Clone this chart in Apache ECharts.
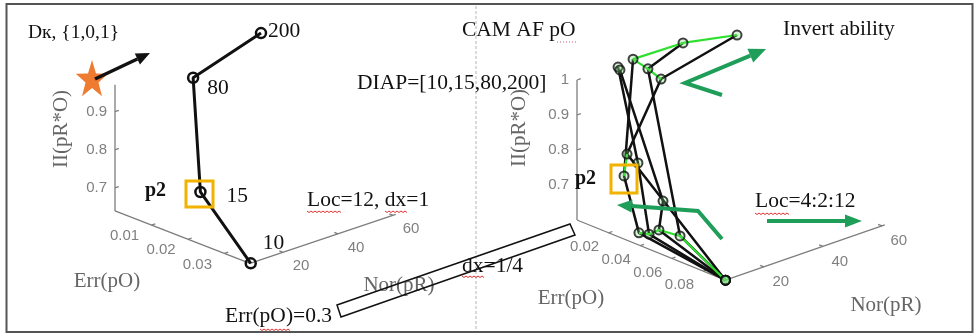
<!DOCTYPE html>
<html><head><meta charset="utf-8">
<script src="https://cdn.jsdelivr.net/npm/echarts@6/dist/echarts.min.js"></script>
<style>html,body{margin:0;padding:0;background:#fff}#c{width:975px;height:336px}</style>
</head><body><div id="c"></div>
<script>
// ---------------- DATA ----------------
const DIAP = [10, 15, 80, 200];

// Left panel (Loc=12, dx=1): one trajectory over DIAP
const leftNor = [8, 10, 12, 40];
const leftErr = [0.0372, 0.0219, 0.0184, 0.0159];
const leftII  = [0.641, 0.766, 1.047, 1.087];

// Right panel (Loc=4:2:12, dx=1/4): one trajectory per Loc over DIAP
const LOCS = [4, 6, 8, 10, 12];
const rightNor = [
  [7, 10, 14, 20],
  [7, 10, 14, 20],
  [7, 11, 12, 20],
  [7, 12, 16, 35],
  [7, 14, 16, 50]
];
const rightErr = [
  [0.094, 0.0336, 0.0167, 0.0112],
  [0.094, 0.0400, 0.0255, 0.0017],
  [0.094, 0.0444, 0.0451, 0.0029],
  [0.094, 0.0559, 0.0281, 0.0148],
  [0.094, 0.0186, 0.0364, 0.0210]
];
const rightII = [
  [0.600, 0.616, 0.736, 1.042],
  [0.600, 0.624, 0.789, 1.002],
  [0.600, 0.641, 0.722, 0.996],
  [0.600, 0.642, 1.057, 1.051],
  [0.600, 0.802, 1.043, 1.041]
];
// green cross links, as [locIndex, diapIndex] references
const greenLinks = [
  [[0,0],[3,1],[2,1],[1,1],[0,1]],
  [[0,2],[4,1]],
  [[4,2],[3,2],[0,3],[3,3],[4,3]]
];

// tick values
const leftNorTicks = [20, 40, 60];
const leftErrTicks = [0.01, 0.02, 0.03];
const leftIITicks  = [0.7, 0.8, 0.9];
const rightNorTicks = [20, 40, 60];
const rightErrTicks = [0.02, 0.04, 0.06, 0.08];
const rightIITicks  = [0.7, 0.8, 0.9, 1];

// ---------------- VIEW (3-D boxes projected on the page) ----------------
const leftBox  = {nor:[8,61], err:[0,0.037], ii:[0.64,0.97], origin:[115,210.9], E:[135,52.5],  N:[145.75,-49],   Z:[0,-126.1]};
const rightBox = {nor:[7,61], err:[0,0.094], ii:[0.6,1.0],   origin:[577,220],   E:[148.5,60.2], N:[159.3,-55.35], Z:[0,-140]};
const leftLabelOffsets = [[12,-20],[26,4.4],[14,10.4],[7,-1.3]];

function proj(box, nor, err, ii) {
  const fe = (err - box.err[0]) / (box.err[1] - box.err[0]);
  const fn = (nor - box.nor[0]) / (box.nor[1] - box.nor[0]);
  const fz = (ii - box.ii[0]) / (box.ii[1] - box.ii[0]);
  return [box.origin[0] + fe*box.E[0] + fn*box.N[0] + fz*box.Z[0],
          box.origin[1] + fe*box.E[1] + fn*box.N[1] + fz*box.Z[1]];
}
const unit = v => { const L = Math.hypot(v[0], v[1]); return [v[0]/L, v[1]/L]; };

function axisSegs(box, norTicks, errTicks, iiTicks) {
  const segs = [];
  const [n0,n1] = box.nor, [e0,e1] = box.err, [z0,z1] = box.ii;
  const a = proj(box,n0,e0,z0), b = proj(box,n0,e0,z1), c = proj(box,n0,e1,z0), d = proj(box,n1,e1,z0);
  segs.push([...a,...b], [...a,...c], [...c,...d]);
  const uN = unit(box.N), uE = unit(box.E), T = 4;
  iiTicks.forEach(t => { const p = proj(box,n0,e0,t); segs.push([p[0],p[1],p[0]+uN[0]*T,p[1]+uN[1]*T]); });
  errTicks.forEach(t => { const p = proj(box,n0,t,z0); segs.push([p[0],p[1],p[0]+uN[0]*T,p[1]+uN[1]*T]); });
  norTicks.forEach(t => { const p = proj(box,t,e1,z0); segs.push([p[0],p[1],p[0]-uE[0]*T,p[1]-uE[1]*T]); });
  return segs;
}
function tickLabels(box, norTicks, errTicks, iiTicks, errOff, norOff) {
  const out = [];
  const [n0,n1] = box.nor, [e0,e1] = box.err, [z0] = box.ii;
  iiTicks.forEach(t => { const p = proj(box,n0,e0,t);
    out.push({value:[p[0]-8, p[1]], label:{formatter:String(t), align:'right'}}); });
  errTicks.forEach(t => { const p = proj(box,n0,t,z0);
    out.push({value:[p[0]+errOff[0], p[1]+errOff[1]], label:{formatter:String(t), align:'center'}}); });
  norTicks.forEach(t => { const p = proj(box,t,e1,z0);
    out.push({value:[p[0]+norOff[0], p[1]+norOff[1]], label:{formatter:String(t), align:'center'}}); });
  return out;
}

const SERIF = '"Liberation Serif","Times New Roman",serif';
const SANS = '"Liberation Sans",Arial,sans-serif';
const LIME = '#2ee02e';
const GREEN = '#1f9e5a';
const BIG = 21.5;

const series = [];
series.push({
  type:'custom', silent:true, z:1, animation:false,
  encode:{x:[0,2], y:[1,3]},
  data: axisSegs(leftBox, leftNorTicks, leftErrTicks, leftIITicks)
        .concat(axisSegs(rightBox, rightNorTicks, rightErrTicks, rightIITicks)),
  renderItem: (params, api) => {
    const p1 = api.coord([api.value(0), api.value(1)]);
    const p2 = api.coord([api.value(2), api.value(3)]);
    return {type:'line', shape:{x1:p1[0],y1:p1[1],x2:p2[0],y2:p2[1]}, style:{stroke:'#7d7d7d', lineWidth:1.3}};
  }
});
series.push({
  type:'scatter', silent:true, z:2, symbolSize:1, itemStyle:{color:'rgba(0,0,0,0)'},
  label:{show:true, position:'inside', verticalAlign:'middle', color:'#5f5f5f', fontFamily:SANS, fontSize:15},
  data: tickLabels(leftBox, leftNorTicks, leftErrTicks, leftIITicks, [-27,11], [18,14])
        .concat(tickLabels(rightBox, rightNorTicks, rightErrTicks, rightIITicks, [-24,14], [17,15]))
});

// left trajectory
series.push({
  type:'line', z:4, animation:false,
  symbol:'circle', symbolSize:10, showSymbol:true,
  lineStyle:{color:'#111', width:3},
  itemStyle:{color:'rgba(255,255,255,0)', borderColor:'#111', borderWidth:2.5},
  label:{show:true, position:'inside', align:'left', verticalAlign:'middle', color:'#111', fontFamily:SERIF, fontSize:BIG},
  data: DIAP.map((d,i) => ({value: proj(leftBox, leftNor[i], leftErr[i], leftII[i]),
                            label:{formatter:String(d), offset:leftLabelOffsets[i]}}))
});

// right trajectories
const rightPt = (li, di) => proj(rightBox, rightNor[li][di], rightErr[li][di], rightII[li][di]);
LOCS.forEach((loc, li) => {
  series.push({
    type:'line', name:'Loc='+loc, z:3, animation:false, symbol:'none',
    lineStyle:{color:'#111', width:2.5},
    data: DIAP.map((d, di) => rightPt(li, di))
  });
});
greenLinks.forEach(link => {
  series.push({
    type:'line', z:4, animation:false, symbol:'none',
    lineStyle:{color:LIME, width:2.2},
    data: link.map(([li, di]) => rightPt(li, di))
  });
});
const allRight = [];
LOCS.forEach((loc, li) => DIAP.forEach((d, di) => allRight.push(rightPt(li, di))));
series.push({
  type:'scatter', z:5, animation:false, symbol:'circle', symbolSize:9,
  itemStyle:{color:'rgba(120,220,120,0.35)', borderColor:'#111', borderWidth:2},
  data: allRight
});

// ---------------- ANNOTATIONS ----------------
function text(x, y, t, size, o = {}) {
  return {type:'text', x, y, z:100, rotation:o.rot||0,
    style:{text:t, font:(o.bold?'bold ':'') + size + 'px ' + (o.font||SERIF), fill:o.fill||'#111',
           align:o.align||'left', verticalAlign:'middle', textAlign:o.align||'left', textVerticalAlign:'middle'}};
}
function arrow(points, color, width, head) {
  const n = points.length;
  const [x1,y1] = points[n-2], [x2,y2] = points[n-1];
  const a = Math.atan2(y2-y1, x2-x1);
  const bx = x2 - head[0]*Math.cos(a), by = y2 - head[0]*Math.sin(a);
  const px = -Math.sin(a)*head[1]/2, py = Math.cos(a)*head[1]/2;
  return [
    {type:'polyline', z:100, shape:{points: points.slice(0,n-1).concat([[bx,by]])}, style:{stroke:color, lineWidth:width, fill:null}},
    {type:'polygon', z:100, shape:{points:[[x2,y2],[bx+px,by+py],[bx-px,by-py]]}, style:{fill:color}}
  ];
}
function wavy(x1, x2, y) {
  const pts = [];
  for (let x = x1, k = 0; x <= x2; x += 2, k++) pts.push([x, y + (k%2 ? 1.5 : 0)]);
  return {type:'polyline', z:100, shape:{points:pts}, style:{stroke:'#e03030', lineWidth:1, fill:null}};
}
function starPts(cx, cy, R, r, sx) {
  const pts = [];
  for (let k = 0; k < 10; k++) { const a = -Math.PI/2 + k*Math.PI/5, rad = k%2 ? r : R;
    pts.push([cx + sx*rad*Math.cos(a), cy + rad*Math.sin(a)]); }
  return pts;
}

const graphics = [
  {type:'rect', z:100, shape:{x:6.5, y:4, width:966, height:328}, style:{stroke:'#555', lineWidth:2, fill:null}},
  {type:'line', z:0, shape:{x1:476, y1:6, x2:476, y2:330}, style:{stroke:'#b5b5b5', lineWidth:1, lineDash:[3,2]}},
  text(28, 32.5, 'Dк, {1,0,1}', 19.5),
  text(462, 30, 'CAM AF pO', BIG),
  {type:'line', z:100, shape:{x1:557, y1:42, x2:578, y2:42}, style:{stroke:'#c06080', lineWidth:1, lineDash:[1,2]}},
  text(357, 83, 'DIAP=[10,15,80,200]', BIG),
  text(783, 29.6, 'Invert ability', BIG),
  text(145, 190.4, 'p2', 20, {bold:true}),
  text(575, 178.5, 'p2', 20, {bold:true}),
  text(307, 200, 'Loc=12, dx=1', BIG),
  wavy(307, 341, 211), wavy(385, 407, 211),
  text(755, 201, 'Loc=4:2:12', BIG),
  wavy(755, 790, 213),
  text(462, 266.4, 'dx=1/4', BIG),
  wavy(462, 485, 276),
  // axis titles
  text(61.5, 129, 'II(pR*O)', 21, {rot:Math.PI/2, align:'center', fill:'#666'}),
  text(519.5, 128, 'II(pR*O)', 21, {rot:Math.PI/2, align:'center', fill:'#666'}),
  text(107, 281.5, 'Err(pO)', 21, {align:'center', fill:'#666'}),
  text(571, 298, 'Err(pO)', 21, {align:'center', fill:'#666'}),
  text(399, 285, 'Nor(pR)', 21, {align:'center', fill:'#666'}),
  text(886, 305, 'Nor(pR)', 21, {align:'center', fill:'#666'}),
  text(225, 316.4, 'Err(pO)=0.3', BIG),
  wavy(260, 290, 329),
  {type:'polygon', z:100, shape:{points:[[337,305],[570,224],[575,235],[341,317]]}, style:{stroke:'#111', lineWidth:1.5, fill:null}},
  // highlight boxes
  {type:'rect', z:100, shape:{x:186, y:181, width:27, height:26}, style:{stroke:'#f2b200', lineWidth:3, fill:null}},
  {type:'rect', z:100, shape:{x:611, y:165, width:26, height:28}, style:{stroke:'#f2b200', lineWidth:3, fill:null}},
  // star
  {type:'polygon', z:99, shape:{points:starPts(92, 80, 20, 8, 0.85)}, style:{fill:'#ee7b30'}},
  ...arrow([[95,79],[150,53]], '#111', 3.5, [14,12]),
  ...arrow([[722,95],[685,83],[766,49]], GREEN, 4, [17,15]),
  ...arrow([[722,239],[698,211],[617,205]], GREEN, 4, [15,13]),
  ...arrow([[767,221],[862,221]], GREEN, 4, [17,13])
];

const chart = echarts.init(document.getElementById('c'), null, {renderer:'canvas'});
chart.setOption({
  animation:false,
  grid:{left:0, right:0, top:0, bottom:0},
  xAxis:{type:'value', min:0, max:975, show:false},
  yAxis:{type:'value', min:0, max:336, inverse:true, show:false},
  series,
  graphic: graphics
});
</script></body></html>
